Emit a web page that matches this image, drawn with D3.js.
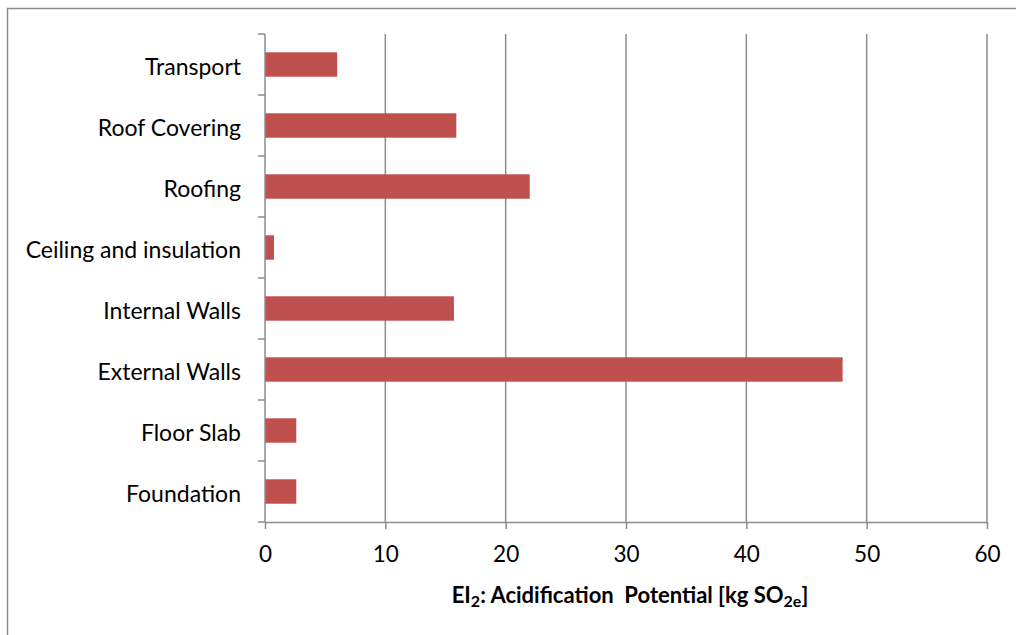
<!DOCTYPE html>
<html>
<head>
<meta charset="utf-8">
<script src="https://cdn.jsdelivr.net/npm/d3@7"></script>
<style>
  html, body { margin: 0; padding: 0; background: #fff; }
  svg { display: block; font-family: Lato, "Open Sans", sans-serif; }
</style>
</head>
<body>
<svg id="chart" width="1016" height="635"></svg>
<script>
// Building elements, listed bottom to top as they appear on the axis
const categories = [
  "Foundation", "Floor Slab", "External Walls", "Internal Walls",
  "Ceiling and insulation", "Roofing", "Roof Covering", "Transport"
];
// Acidification potential per element [kg SO2e]
const values = [2.6, 2.6, 48.0, 15.7, 0.75, 22.0, 15.9, 6.0];
const xTicks = [0, 10, 20, 30, 40, 50, 60];

const W = 1016, H = 635;
const margin = { top: 34, right: 29, bottom: 113, left: 265 };
const innerW = W - margin.left - margin.right;
const innerH = H - margin.top - margin.bottom;

const svg = d3.select("#chart");

// outer chart frame (only top and left edges fall inside the page)
svg.append("rect")
  .attr("x", 7.5).attr("y", 8.5)
  .attr("width", W).attr("height", H)
  .attr("fill", "none").attr("stroke", "#8c8c8c").attr("stroke-width", 1.5);

const g = svg.append("g").attr("transform", `translate(${margin.left},${margin.top})`);

const x = d3.scaleLinear().domain([0, 60]).range([0, innerW]);
const y = d3.scaleBand().domain(categories.slice().reverse()).range([0, innerH])
  .paddingInner(0.6).paddingOuter(0.3);

// vertical gridlines
g.append("g").selectAll("line")
  .data(xTicks.filter(d => d > 0))
  .join("line")
  .attr("x1", d => x(d)).attr("x2", d => x(d))
  .attr("y1", 0).attr("y2", innerH)
  .attr("stroke", "#8c8c8c").attr("stroke-width", 1.5);

// bars
g.append("g").selectAll("rect")
  .data(categories.map((c, i) => ({ c, v: values[i] })))
  .join("rect")
  .attr("x", x(0))
  .attr("y", d => y(d.c))
  .attr("width", d => x(d.v) - x(0))
  .attr("height", y.bandwidth())
  .attr("fill", "#C0504D");

// x axis
const xAxis = g.append("g")
  .attr("transform", `translate(0,${innerH})`)
  .call(d3.axisBottom(x).tickValues(xTicks).tickSize(7).tickPadding(17).tickSizeOuter(0));
xAxis.select(".domain").attr("stroke", "#8c8c8c").attr("stroke-width", 1.5);
xAxis.selectAll(".tick line").attr("stroke", "#8c8c8c").attr("stroke-width", 1.5);
xAxis.selectAll(".tick text")
  .attr("font-size", 22.5).attr("fill", "#000").attr("font-family", "Lato, sans-serif");

// y axis: ticks sit on category boundaries
const yAxis = g.append("g");
yAxis.append("line")
  .attr("x1", 0).attr("x2", 0).attr("y1", 0).attr("y2", innerH)
  .attr("stroke", "#8c8c8c").attr("stroke-width", 1.5);
const step = innerH / categories.length;
yAxis.selectAll(".ytick")
  .data(d3.range(categories.length + 1))
  .join("line")
  .attr("class", "ytick")
  .attr("x1", -7).attr("x2", 0)
  .attr("y1", i => i * step).attr("y2", i => i * step)
  .attr("stroke", "#8c8c8c").attr("stroke-width", 1.5);
yAxis.selectAll("text")
  .data(categories)
  .join("text")
  .attr("x", -24)
  .attr("y", d => y(d) + y.bandwidth() / 2 + 2)
  .attr("dy", "0.35em")
  .attr("text-anchor", "end")
  .attr("font-size", 23)
  .attr("fill", "#000")
  .text(d => d);

// axis title with subscripts
const title = svg.append("text")
  .attr("x", margin.left + innerW / 2 + 4)
  .attr("y", 603)
  .attr("text-anchor", "middle")
  .attr("font-size", 22)
  .attr("font-weight", "bold")
  .attr("fill", "#000");
title.append("tspan").text("EI");
title.append("tspan").attr("font-size", 16).attr("dy", 4).text("2");
title.append("tspan").attr("dy", -4).text(": Acidification  Potential [kg SO").style("white-space", "pre");
title.append("tspan").attr("font-size", 16).attr("dy", 4).text("2e");
title.append("tspan").attr("dy", -4).text("]");
</script>
</body>
</html>
